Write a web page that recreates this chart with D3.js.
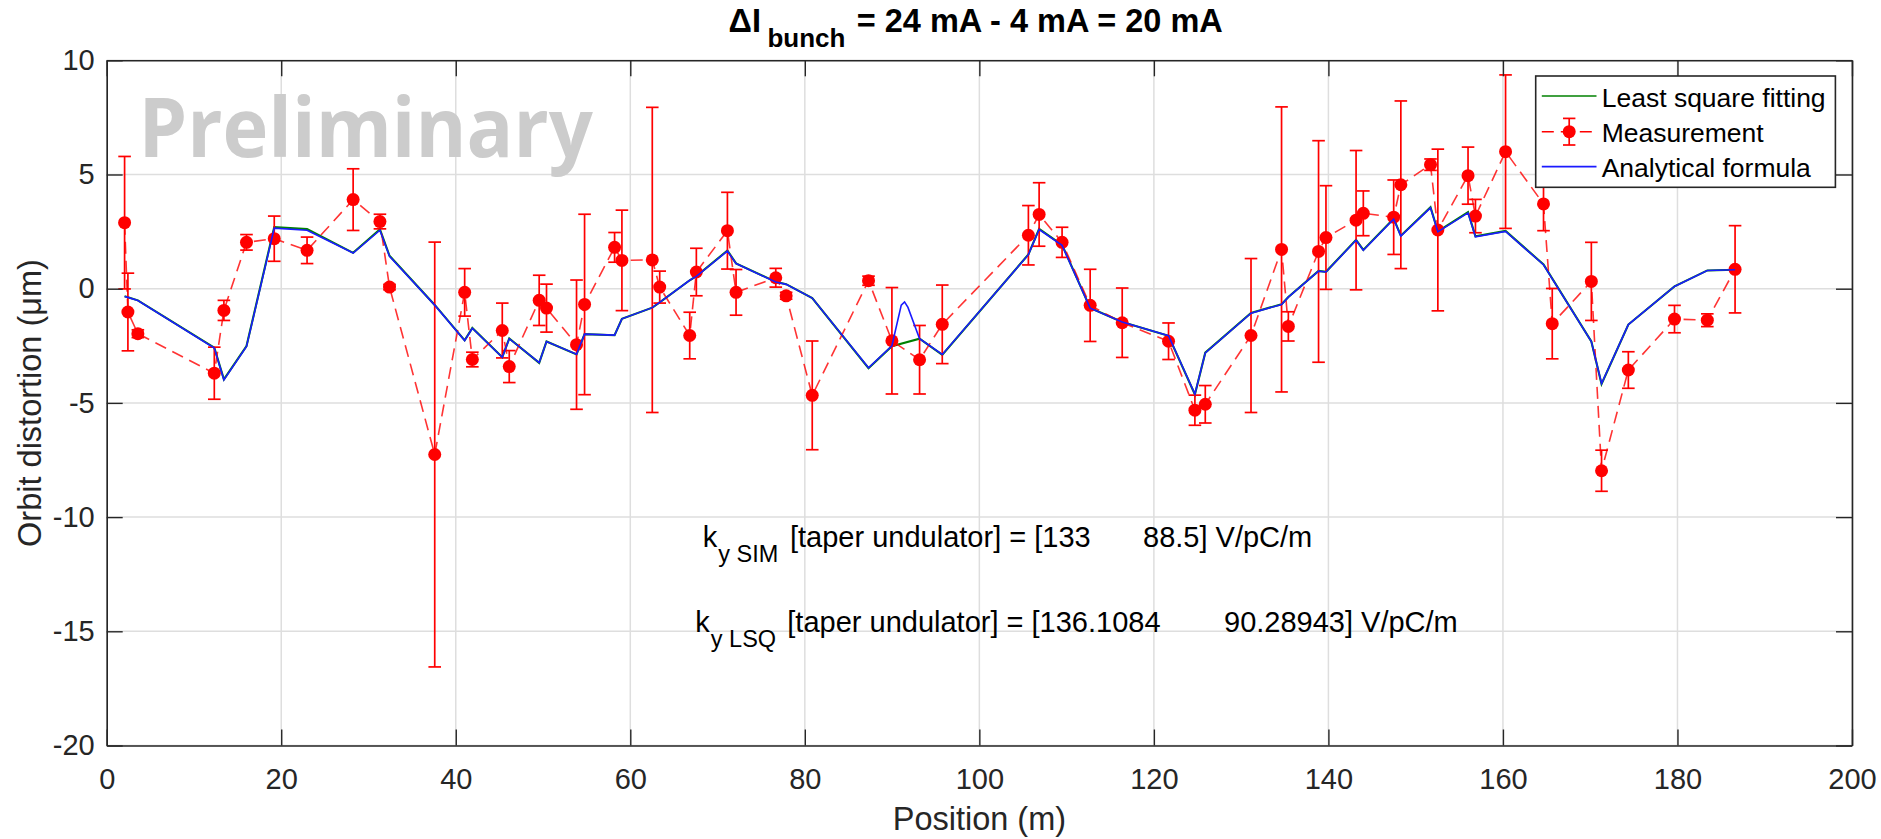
<!DOCTYPE html>
<html>
<head>
<meta charset="utf-8">
<script src="https://cdn.jsdelivr.net/npm/d3@7"></script>
<style>
  body { margin: 0; background: #fff; }
  text { font-family: 'Liberation Sans', Arial, sans-serif; }
</style>
</head>
<body>
<div id="chart"></div>
<script>
// measurement: BPM position (m), orbit distortion (um), error bar half-length
let measX = [2.05, 2.43, 3.57, 12.33, 13.43, 16.02, 19.2, 22.96, 28.24, 31.31, 32.41, 37.59,
  41.02, 41.9, 45.33, 46.13, 49.56, 50.4, 53.84, 54.76, 58.2, 59.04, 62.52, 63.37, 66.81,
  67.57, 71.13, 72.12, 76.67, 77.86, 80.85, 87.3, 89.98, 93.15, 95.75, 105.62, 106.85,
  109.48, 112.7, 116.37, 121.68, 124.7, 125.89, 131.13, 134.63, 135.41, 138.87, 139.72,
  143.17, 144.0, 147.48, 148.3, 151.7, 152.54, 156.0, 156.85, 160.3, 164.65, 165.65,
  170.13, 171.3, 174.37, 179.66, 183.42, 186.6];
let measY = [2.89, -1.02, -1.97, -3.70, -0.95, 2.03, 2.19, 1.68, 3.90, 2.94, 0.07, -7.26,
  -0.16, -3.10, -1.83, -3.41, -0.51, -0.85, -2.45, -0.69, 1.81, 1.24, 1.26, 0.07, -2.05,
  0.73, 2.54, -0.16, 0.48, -0.31, -4.67, 0.35, -2.28, -3.11, -1.56, 2.34, 3.25,
  2.03, -0.73, -1.49, -2.30, -5.32, -5.06, -2.05, 1.72, -1.65, 1.63, 2.24,
  3.0, 3.30, 3.13, 4.55, 5.43, 2.57, 4.95, 3.18, 6.0, 3.71, -1.53,
  0.32, -7.97, -3.56, -1.33, -1.38, 0.85];
let measErr = [2.9, 1.7, 0.17, 1.14, 0.44, 0.34, 0.99, 0.58, 1.35, 0.32, 0.12, 9.3,
  1.04, 0.32, 1.2, 0.7, 1.1, 1.05, 2.83, 3.95, 0.65, 2.2, 6.68, 0.7, 1.02,
  1.04, 1.68, 1.0, 0.41, 0.15, 2.38, 0.2, 2.33, 1.5, 1.72, 1.3, 1.39,
  0.66, 1.58, 1.52, 0.8, 0.66, 0.82, 3.37, 6.24, 0.64, 4.85, 2.27,
  3.05, 0.98, 1.63, 3.67, 0.25, 3.54, 1.25, 0.73, 3.36, 1.17, 1.54,
  1.71, 0.9, 0.8, 0.6, 0.28, 1.91];

// analytical formula
let anaX = [2.05, 2.43, 3.57, 12.33, 13.43, 16.02, 19.2, 22.96, 28.24, 31.31, 32.41, 37.59,
  41.02, 41.9, 45.33, 46.13, 49.56, 50.4, 53.84, 54.76, 58.2, 59.04, 62.52, 63.37, 66.81,
  67.57, 71.13, 72.12, 76.67, 77.86, 80.85, 87.3, 89.98, 91.05, 91.43, 91.82, 93.15, 95.75,
  105.62, 106.85, 109.48, 112.7, 116.37, 121.68, 124.7, 125.89, 131.13, 134.63, 135.41,
  138.87, 139.72, 143.17, 144.0, 147.48, 148.3, 151.7, 152.54, 156.0, 156.85, 160.3,
  164.65, 170.13, 171.3, 174.37, 179.66, 183.42, 186.6];
let anaY = [-0.34, -0.38, -0.52, -2.60, -3.99, -2.53, 2.65, 2.56, 1.56, 2.56, 1.42, -0.72,
  -2.27, -1.73, -3.00, -2.19, -3.24, -2.31, -2.87, -1.99, -2.03, -1.32, -0.83, -0.60, 0.37,
  0.54, 1.65, 1.10, 0.29, 0.19, -0.41, -3.46, -2.50, -0.72, -0.58, -0.82, -2.19, -2.88,
  1.49, 2.59, 1.90, -0.85, -1.46, -2.06, -4.61, -2.81, -1.07, -0.69, -0.37,
  0.77, 0.73, 2.12, 1.68, 3.04, 2.30, 3.54, 2.49, 3.32, 2.27, 2.51,
  1.05, -2.31, -4.15, -1.57, 0.10, 0.80, 0.83];

// least square fitting
let lsqX = [2.05, 2.43, 3.57, 12.33, 13.43, 16.02, 19.2, 22.96, 28.24, 31.31, 32.41, 37.59,
  41.02, 41.9, 45.33, 46.13, 49.56, 50.4, 53.84, 54.76, 58.2, 59.04, 62.52, 63.37, 66.81,
  67.57, 71.13, 72.12, 76.67, 77.86, 80.85, 87.3, 89.98, 93.15, 95.75,
  105.62, 106.85, 109.48, 112.7, 116.37, 121.68, 124.7, 125.89, 131.13, 134.63, 135.41,
  138.87, 139.72, 143.17, 144.0, 147.48, 148.3, 151.7, 152.54, 156.0, 156.85, 160.3,
  164.65, 170.13, 171.3, 174.37, 179.66, 183.42, 186.6];
let lsqY = [-0.33, -0.37, -0.51, -2.58, -3.97, -2.51, 2.70, 2.61, 1.57, 2.60, 1.44, -0.71,
  -2.26, -1.72, -3.00, -2.18, -3.25, -2.31, -2.88, -1.99, -2.04, -1.32, -0.83, -0.60, 0.37,
  0.55, 1.67, 1.11, 0.30, 0.20, -0.41, -3.48, -2.52, -2.19, -2.90,
  1.50, 2.62, 1.92, -0.84, -1.46, -2.06, -4.63, -2.80, -1.06, -0.68, -0.36,
  0.78, 0.74, 2.14, 1.70, 3.07, 2.32, 3.57, 2.51, 3.35, 2.29, 2.53,
  1.06, -2.31, -4.17, -1.57, 0.10, 0.80, 0.83];

let xTicks = [0, 20, 40, 60, 80, 100, 120, 140, 160, 180, 200];
let yTicks = [-20, -15, -10, -5, 0, 5, 10];

let svg = d3.select('#chart')
  .append('svg')
  .attr('width', 1881)
  .attr('height', 839);

let x = d3.scaleLinear().domain([0, 200]).range([106.7, 1852]);
let y = d3.scaleLinear().domain([-20, 10]).range([745.5, 60.3]);

let axisColor = '#262626';

// grid
let grid = svg.append('g');
grid.selectAll('.vg')
  .data(xTicks)
  .enter()
  .append('line')
  .attr('x1', d => x(d)).attr('x2', d => x(d))
  .attr('y1', y(10)).attr('y2', y(-20))
  .attr('stroke', '#dedede')
  .attr('stroke-width', 1.5);
grid.selectAll('.hg')
  .data(yTicks)
  .enter()
  .append('line')
  .attr('x1', x(0)).attr('x2', x(200))
  .attr('y1', d => y(d)).attr('y2', d => y(d))
  .attr('stroke', '#dedede')
  .attr('stroke-width', 1.5);

// watermark
svg.append('text')
  .attr('x', 138.4)
  .attr('y', 156.7)
  .attr('textLength', 454.5)
  .attr('lengthAdjust', 'spacingAndGlyphs')
  .style('font-family', "'Open Sans', sans-serif")
  .attr('font-weight', 700)
  .attr('font-size', 82)
  .attr('fill', '#cccccc')
  .text('Preliminary');

// annotations
let ann1 = svg.append('text').attr('y', 546.7).attr('font-size', 29).attr('fill', '#000');
ann1.append('tspan').attr('x', 702.7).text('k');
ann1.append('tspan').attr('x', 718.3).attr('dy', 15).attr('font-size', 23.5).text('y SIM');
ann1.append('tspan').attr('x', 790).attr('dy', -15).text('[taper undulator] = [133');
ann1.append('tspan').attr('x', 1143).text('88.5] V/pC/m');

let ann2 = svg.append('text').attr('y', 631.7).attr('font-size', 29).attr('fill', '#000');
ann2.append('tspan').attr('x', 695.2).text('k');
ann2.append('tspan').attr('x', 710.8).attr('dy', 15).attr('font-size', 23.5).text('y LSQ');
ann2.append('tspan').attr('x', 787.3).attr('dy', -15).text('[taper undulator] = [136.1084');
ann2.append('tspan').attr('x', 1224).text('90.28943] V/pC/m');

// lines
let lsqData = lsqX.map((d, i) => [d, lsqY[i]]);
let anaData = anaX.map((d, i) => [d, anaY[i]]);
let measData = measX.map((d, i) => ({ x: d, y: measY[i], e: measErr[i] }));

let line = d3.line().x(d => x(d[0])).y(d => y(d[1]));

svg.append('path')
  .attr('d', line(lsqData))
  .attr('fill', 'none')
  .attr('stroke', '#008000')
  .attr('stroke-width', 2.1);

svg.append('path')
  .attr('d', d3.line().x(d => x(d.x)).y(d => y(d.y))(measData))
  .attr('fill', 'none')
  .attr('stroke', '#ff0000')
  .attr('stroke-opacity', 0.8)
  .attr('stroke-width', 1.6)
  .attr('stroke-dasharray', '12,7');

let bars = svg.append('g')
  .attr('stroke', '#ff0000')
  .attr('stroke-width', 1.7);
bars.selectAll('.eb')
  .data(measData)
  .enter()
  .append('line')
  .attr('x1', d => x(d.x)).attr('x2', d => x(d.x))
  .attr('y1', d => y(d.y + d.e)).attr('y2', d => y(d.y - d.e));
bars.selectAll('.capT')
  .data(measData)
  .enter()
  .append('line')
  .attr('x1', d => x(d.x) - 6.3).attr('x2', d => x(d.x) + 6.3)
  .attr('y1', d => y(d.y + d.e)).attr('y2', d => y(d.y + d.e));
bars.selectAll('.capB')
  .data(measData)
  .enter()
  .append('line')
  .attr('x1', d => x(d.x) - 6.3).attr('x2', d => x(d.x) + 6.3)
  .attr('y1', d => y(d.y - d.e)).attr('y2', d => y(d.y - d.e));

svg.append('g').selectAll('circle')
  .data(measData)
  .enter()
  .append('circle')
  .attr('cx', d => x(d.x))
  .attr('cy', d => y(d.y))
  .attr('r', 6.5)
  .attr('fill', '#ff0000');

svg.append('path')
  .attr('d', line(anaData))
  .attr('fill', 'none')
  .attr('stroke', '#1a1aff')
  .attr('stroke-width', 1.6);

// axes (ticks inside, box on)
function styleAxis(g) {
  g.select('.domain').attr('stroke', axisColor).attr('stroke-width', 1.6);
  g.selectAll('.tick line').attr('stroke', axisColor).attr('stroke-width', 1.4);
  g.selectAll('text')
    .attr('fill', axisColor)
    .attr('font-size', 29)
    .style('font-family', "'Liberation Sans', Arial, sans-serif");
}

svg.append('g')
  .attr('transform', `translate(0,${y(-20)})`)
  .call(d3.axisBottom(x).tickValues(xTicks).tickSizeInner(-16).tickSizeOuter(0)
    .tickPadding(23).tickFormat(d => String(d)))
  .call(styleAxis);

svg.append('g')
  .attr('transform', `translate(0,${y(10)})`)
  .call(d3.axisTop(x).tickValues(xTicks).tickSizeInner(-16).tickSizeOuter(0).tickFormat(''))
  .call(styleAxis);

svg.append('g')
  .attr('transform', `translate(${x(0)},0)`)
  .call(d3.axisLeft(y).tickValues(yTicks).tickSizeInner(-16).tickSizeOuter(0)
    .tickPadding(12).tickFormat(d => String(d)))
  .call(styleAxis);

svg.append('g')
  .attr('transform', `translate(${x(200)},0)`)
  .call(d3.axisRight(y).tickValues(yTicks).tickSizeInner(-16).tickSizeOuter(0).tickFormat(''))
  .call(styleAxis);

// axis labels
svg.append('text')
  .attr('x', 979.4)
  .attr('y', 830)
  .attr('text-anchor', 'middle')
  .attr('font-size', 32.5)
  .attr('fill', axisColor)
  .text('Position (m)');

svg.append('text')
  .attr('transform', 'translate(41,403) rotate(-90)')
  .attr('text-anchor', 'middle')
  .attr('font-size', 32.5)
  .attr('fill', axisColor)
  .text('Orbit distortion (\u03bcm)');

// title
let title = svg.append('text')
  .attr('y', 31.7)
  .attr('font-size', 32.5)
  .attr('font-weight', 700)
  .attr('fill', '#000');
title.append('tspan').attr('x', 728.6).text('\u0394I');
title.append('tspan').attr('x', 767.4).attr('dy', 15).attr('font-size', 26).text('bunch');
title.append('tspan').attr('x', 856.7).attr('dy', -15).text('= 24 mA - 4 mA = 20 mA');

// legend
let legend = svg.append('g');
legend.append('rect')
  .attr('x', 1535.7).attr('y', 76)
  .attr('width', 299.7).attr('height', 111.3)
  .attr('fill', '#fff')
  .attr('stroke', axisColor)
  .attr('stroke-width', 1.6);

let legendRows = [
  { label: 'Least square fitting', color: '#008000', cy: 96 },
  { label: 'Measurement', color: '#ff0000', cy: 131.7 },
  { label: 'Analytical formula', color: '#1a1aff', cy: 166.7 }
];

legendRows.forEach(function(r, i) {
  if (i === 1) {
    legend.append('line')
      .attr('x1', 1541.8).attr('x2', 1596.5)
      .attr('y1', r.cy).attr('y2', r.cy)
      .attr('stroke', r.color).attr('stroke-width', 1.6)
      .attr('stroke-dasharray', '12,7');
    legend.append('line')
      .attr('x1', 1569.2).attr('x2', 1569.2)
      .attr('y1', r.cy - 13.3).attr('y2', r.cy + 13.3)
      .attr('stroke', r.color).attr('stroke-width', 1.7);
    [-13.3, 13.3].forEach(function(o) {
      legend.append('line')
        .attr('x1', 1563).attr('x2', 1575.4)
        .attr('y1', r.cy + o).attr('y2', r.cy + o)
        .attr('stroke', r.color).attr('stroke-width', 1.7);
    });
    legend.append('circle')
      .attr('cx', 1569.2).attr('cy', r.cy).attr('r', 6.5)
      .attr('fill', r.color);
  } else {
    legend.append('line')
      .attr('x1', 1541.8).attr('x2', 1596.5)
      .attr('y1', r.cy).attr('y2', r.cy)
      .attr('stroke', r.color).attr('stroke-width', 1.7);
  }
  legend.append('text')
    .attr('x', 1601.7)
    .attr('y', r.cy + 10.5)
    .attr('font-size', 26.5)
    .attr('fill', '#000')
    .text(r.label);
});
</script>
</body>
</html>
